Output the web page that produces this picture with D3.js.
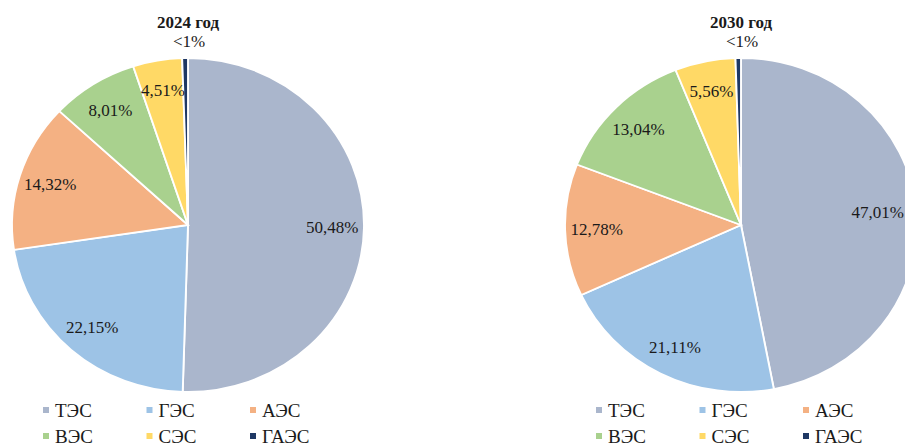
<!DOCTYPE html>
<html>
<head>
    <meta charset="utf-8">
    <title>Структура установленной мощности</title>
    <style>
        body { margin: 0; background: #fff; }
        svg text { font-family: "Liberation Serif", "DejaVu Serif", serif; fill: #1a1a1a; }
        .title { font-weight: bold; font-size: 17px; }
        .lbl { font-size: 17px; }
        .legend text { font-size: 19px; }
    </style>
    <script src="https://d3js.org/d3.v7.min.js"></script>
</head>
<body>
<script>
    // categories and values
    var categories = ["ТЭС", "ГЭС", "АЭС", "ВЭС", "СЭС", "ГАЭС"];
    var colors = ["#aab6cc", "#9dc3e6", "#f4b183", "#a9d18e", "#ffd966", "#1f3864"];
    var years = ["2024 год", "2030 год"];
    var values2024 = [50.48, 22.15, 14.32, 8.01, 4.51, 0.53];
    var values2030 = [47.01, 21.11, 12.78, 13.04, 5.56, 0.50];
    var labels2024 = ["50,48%", "22,15%", "14,32%", "8,01%", "4,51%", "<1%"];
    var labels2030 = ["47,01%", "21,11%", "12,78%", "13,04%", "5,56%", "<1%"];

    var width = 905, height = 447;
    var rx = 176, ry = 167;

    var svg = d3.select("body").append("svg")
        .attr("width", width)
        .attr("height", height)
        .attr("font-family", "Liberation Serif, serif");

    var pie = d3.pie().sort(null).value(function(d) { return d; });
    var arc = d3.arc().innerRadius(0).outerRadius(ry);
    var labelArc = d3.arc().innerRadius(ry * 0.82).outerRadius(ry * 0.82);

    function drawPie(cx, cy, title, values, labels) {
        var g = svg.append("g").attr("transform", "translate(" + cx + "," + cy + ")");
        var arcs = pie(values);

        // pie is slightly wider than tall in the picture
        g.append("g")
            .attr("transform", "scale(" + (rx / ry) + ",1)")
          .selectAll("path")
            .data(arcs)
          .enter().append("path")
            .attr("d", arc)
            .attr("fill", function(d, i) { return colors[i]; })
            .attr("stroke", "#fff")
            .attr("stroke-width", 1.8);

        // value labels (the tiny slice is labelled above the pie)
        g.selectAll("text.lbl")
            .data(arcs.slice(0, 5))
          .enter().append("text")
            .attr("class", "lbl")
            .attr("x", function(d) { return labelArc.centroid(d)[0] * rx / ry; })
            .attr("y", function(d) { return labelArc.centroid(d)[1]; })
            .attr("dy", "0.35em")
            .attr("text-anchor", "middle")
            .text(function(d, i) { return labels[i]; })
            .each(function() {
                // keep label inside the picture
                var b = this.getBBox();
                var over = cx + b.x + b.width - (width - 1);
                if (over > 0) d3.select(this).attr("x", +d3.select(this).attr("x") - over);
            });

        g.append("text")
            .attr("class", "lbl")
            .attr("x", 1)
            .attr("y", -ry - 11)
            .attr("text-anchor", "middle")
            .text(labels[5]);

        g.append("text")
            .attr("class", "title")
            .attr("x", 0)
            .attr("y", -cy + 28)
            .attr("text-anchor", "middle")
            .text(title);

        // legend, 3 columns x 2 rows
        var leg = g.append("g").attr("class", "legend");
        var item = leg.selectAll("g")
            .data(categories)
          .enter().append("g")
            .attr("transform", function(d, i) {
                return "translate(" + (-145 + (i % 3) * 103.5) + "," + (186 + Math.floor(i / 3) * 26) + ")";
            });
        item.append("rect")
            .attr("x", 0).attr("y", -4)
            .attr("width", 6).attr("height", 6)
            .attr("fill", function(d, i) { return colors[i]; });
        item.append("text")
            .attr("x", 12)
            .attr("dy", "0.33em")
            .text(function(d) { return d; });
    }

    drawPie(188, 225, years[0], values2024, labels2024);
    drawPie(741, 225, years[1], values2030, labels2030);
</script>
</body>
</html>
